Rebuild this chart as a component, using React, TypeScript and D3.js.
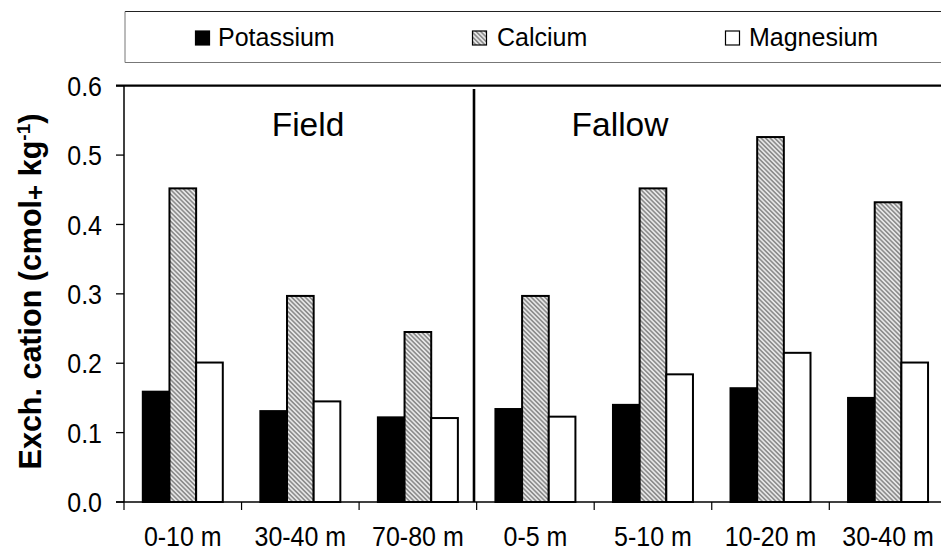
import React from "react";
import * as d3 from "d3";

const categories = ["0-10 m", "30-40 m", "70-80 m", "0-5 m", "5-10 m", "10-20 m", "30-40 m"];
const seriesNames = ["Potassium", "Calcium", "Magnesium"];
const potassium = [0.159, 0.131, 0.122, 0.134, 0.140, 0.164, 0.150];
const calcium = [0.452, 0.297, 0.245, 0.297, 0.452, 0.526, 0.432];
const magnesium = [0.201, 0.145, 0.121, 0.123, 0.184, 0.215, 0.201];
const yTicks = [0, 0.1, 0.2, 0.3, 0.4, 0.5, 0.6];
const groupLabels = ["Field", "Fallow"];

const W = 941;
const H = 551;
const FONT = "'Liberation Sans', Arial, Helvetica, sans-serif";

export default function App() {
  const x0 = 124;
  const step = 117.55;
  const x1 = x0 + step * categories.length;
  const yBase = 502;
  const yTop = 85.7;

  const idx = categories.map((_, i) => String(i));
  const x = d3.scaleBand().domain(idx).range([x0, x1]).paddingInner(0.3195).paddingOuter(0.16);
  const xs = d3.scaleBand().domain(seriesNames).range([0, x.bandwidth()]);
  const y = d3.scaleLinear().domain([0, 0.6]).range([yBase, yTop]);

  const values = [potassium, calcium, magnesium];
  const fills = ["#000", "url(#hatch)", "#fff"];

  const catX = (i: number) => x0 + i * step;

  return (
    <svg width={W} height={H} style={{ position: "absolute", left: 0, top: 0, background: "#fff" }} fontFamily={FONT}>
      <defs>
        <pattern id="hatch" width="3.2" height="3.2" patternUnits="userSpaceOnUse" patternTransform="rotate(-45)">
          <rect width="3.2" height="3.2" fill="#e6e6e6" />
          <line x1="0.8" y1="0" x2="0.8" y2="3.2" stroke="#707070" strokeWidth="1.2" />
        </pattern>
      </defs>
      <rect width={W} height={H} fill="#fff" />

      {/* Legend box */}
      <line x1={125} y1={11.5} x2={W} y2={11.5} stroke="#222" strokeWidth={1} />
      <line x1={125} y1={62.5} x2={W} y2={62.5} stroke="#777" strokeWidth={1} />
      <line x1={125} y1={11.5} x2={125} y2={62.5} stroke="#777" strokeWidth={1} />
      {[
        { sx: 195, tx: 218, name: seriesNames[0], fill: "#000" },
        { sx: 472, tx: 497, name: seriesNames[1], fill: "url(#hatch)" },
        { sx: 725, tx: 749, name: seriesNames[2], fill: "#fff" },
      ].map((l) => (
        <g key={l.name}>
          <rect x={l.sx + 0.5} y={31} width={14} height={14} fill={l.fill} stroke="#000" strokeWidth={1.2} />
          <text transform={`translate(${l.tx},46) scale(1,1.05)`} fontSize={25} fill="#000">
            {l.name}
          </text>
        </g>
      ))}

      {/* Bars */}
      {categories.map((c, i) => (
        <g key={i} transform={`translate(${x(String(i))},0)`}>
          {seriesNames.map((s, k) => (
            <rect
              key={s}
              x={xs(s)}
              y={y(values[k][i])}
              width={xs.bandwidth()}
              height={yBase - y(values[k][i])}
              fill={fills[k]}
              stroke="#000"
              strokeWidth={2}
            />
          ))}
        </g>
      ))}

      {/* Top line */}
      <line x1={116} y1={yTop} x2={W} y2={yTop} stroke="#000" strokeWidth={2.2} />
      {/* Y axis */}
      <line x1={x0} y1={yTop} x2={x0} y2={yBase} stroke="#000" strokeWidth={1.5} />
      {yTicks.map((t) => (
        <g key={t}>
          <line x1={116} y1={y(t)} x2={x0} y2={y(t)} stroke="#000" strokeWidth={1.3} />
          <text
            transform={`translate(102,${y(t)}) scale(1,1.12)`}
            dy="0.36em"
            textAnchor="end"
            fontSize={25}
            fill="#000"
          >
            {d3.format(".1f")(t)}
          </text>
        </g>
      ))}
      {/* X axis */}
      <line x1={116} y1={yBase} x2={W} y2={yBase} stroke="#000" strokeWidth={1.5} />
      {categories.map((c, i) => (
        <g key={i}>
          <line x1={catX(i)} y1={yBase} x2={catX(i)} y2={510} stroke="#000" strokeWidth={1.2} />
          <text
            transform={`translate(${catX(i) + step / 2},546) scale(1,1.12)`}
            textAnchor="middle"
            fontSize={25}
            fill="#000"
          >
            {c}
          </text>
        </g>
      ))}
      {/* Divider */}
      <line x1={474} y1={89} x2={474} y2={yBase} stroke="#000" strokeWidth={2.6} />

      {/* Group labels */}
      <text x={308} y={136} textAnchor="middle" fontSize={33.5} fill="#000">
        {groupLabels[0]}
      </text>
      <text x={620} y={136} textAnchor="middle" fontSize={33.5} fill="#000">
        {groupLabels[1]}
      </text>

      {/* Y label */}
      <text
        transform={`translate(40.5,${291.5}) rotate(-90)`}
        textAnchor="middle"
        fontSize={30.5}
        fontWeight="bold"
        fill="#000"
      >
        Exch. cation (cmol
        <tspan dy="3" fontSize={26}>+</tspan>
        <tspan dy="-3"> kg</tspan>
        <tspan dy="-11" fontSize={19}>-1</tspan>
        <tspan dy="11">)</tspan>
      </text>
    </svg>
  );
}
